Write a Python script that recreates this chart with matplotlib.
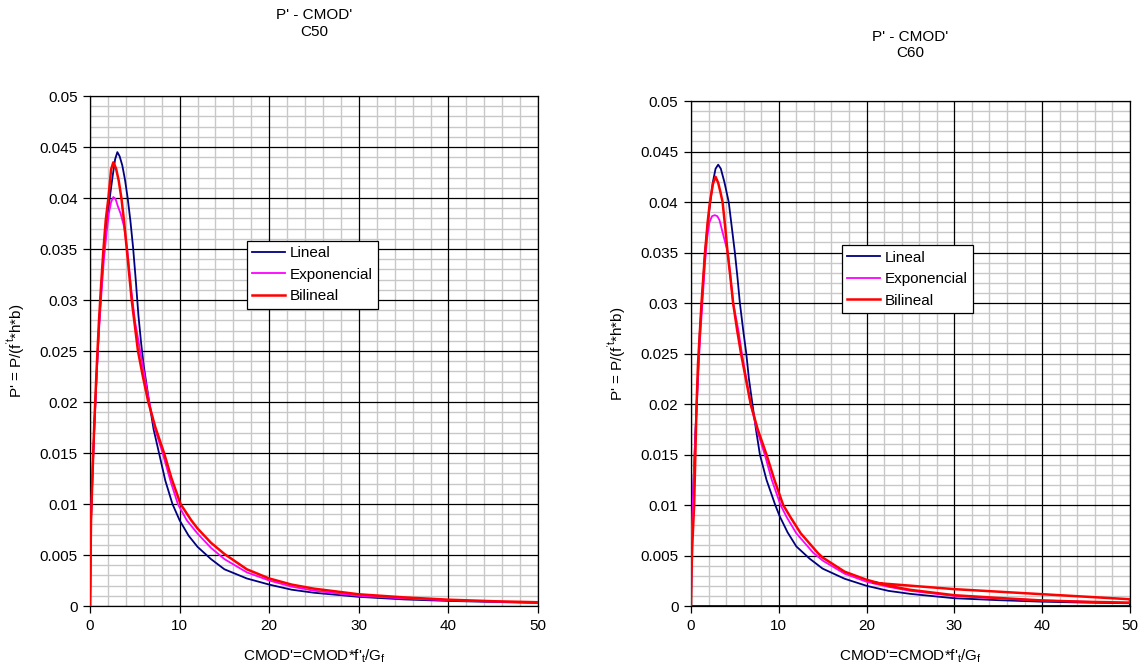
import numpy as np
import matplotlib.pyplot as plt
from matplotlib.ticker import MultipleLocator

plt.rcParams['font.family'] = ['Liberation Sans', 'DejaVu Sans']
plt.rcParams['font.size'] = 11
plt.rcParams['mathtext.fontset'] = 'custom'
plt.rcParams['mathtext.rm'] = 'Liberation Sans'

# ---- C50 ----
lin50_x = [0, 0.05, 0.1, 0.3, 0.5, 0.75, 1.0, 1.25, 1.5, 1.85, 2.2, 2.5, 2.8, 3.05, 3.3, 3.6, 3.9, 4.2, 4.5,
           4.8, 5.1, 5.4, 5.7, 6.0, 6.6, 7.1, 7.7, 8.4, 9.2, 10, 11, 12, 13.5, 15, 17.5, 20, 22.5, 25, 30,
           35, 40, 45, 50]
lin50_y = [0, 0.004, 0.008, 0.0135, 0.018, 0.023, 0.0275, 0.031, 0.0345, 0.0375, 0.040, 0.042, 0.0438, 0.0445,
           0.0441, 0.0432, 0.0418, 0.040, 0.0378, 0.0352, 0.032, 0.0285, 0.0258, 0.0235, 0.020, 0.0173, 0.015,
           0.0123, 0.010, 0.0084, 0.0069, 0.0058, 0.0046, 0.0036, 0.0027, 0.0021, 0.0016, 0.0013, 0.0009,
           0.00065, 0.0005, 0.0004, 0.0003]
exp50_x = [0, 0.05, 0.1, 0.3, 0.5, 0.75, 1.0, 1.3, 1.55, 1.85, 2.1, 2.35, 2.6, 2.85, 3.1, 3.4, 3.8, 4.15, 4.6,
           5.0, 5.5, 6.5, 7.2, 8.1, 9.0, 9.8, 10.8, 12, 13.5, 15, 17.5, 20, 22.5, 25, 30, 35, 40, 45, 50]
exp50_y = [0, 0.004, 0.0084, 0.0135, 0.018, 0.0228, 0.027, 0.031, 0.034, 0.0366, 0.0385, 0.0396, 0.0401,
           0.0399, 0.0392, 0.0385, 0.0372, 0.035, 0.031, 0.028, 0.0255, 0.0205, 0.0175, 0.015, 0.0122, 0.010,
           0.0084, 0.0071, 0.0057, 0.0046, 0.0033, 0.0025, 0.0019, 0.0015, 0.001, 0.00075, 0.00056, 0.00043,
           0.00033]
bil50_x = [0, 0.05, 0.11, 0.3, 0.48, 0.75, 1.0, 1.25, 1.5, 1.75, 2.05, 2.35, 2.6, 2.9, 3.2, 3.5, 3.8, 4.1, 4.65,
           5.35, 5.9, 6.5, 7.3, 8.26, 9.1, 10.1, 11.3, 12, 13.5, 15, 17.5, 20, 22.5, 25, 30, 35, 40, 45, 50]
bil50_y = [0, 0.004, 0.0084, 0.0135, 0.018, 0.0235, 0.028, 0.0317, 0.035, 0.0378, 0.040, 0.0428, 0.0435,
           0.0429, 0.0417, 0.040, 0.0377, 0.035, 0.030, 0.025, 0.0225, 0.020, 0.0175, 0.015, 0.0125, 0.010,
           0.0084, 0.0076, 0.0062, 0.0051, 0.0036, 0.0027, 0.0021, 0.0017, 0.00115, 0.00085, 0.00062,
           0.00047, 0.00037]

# ---- C60 ----
lin60_x = [0, 0.1, 0.3, 0.5, 0.75, 1.0, 1.3, 1.6, 1.9, 2.2, 2.5, 2.8, 3.1, 3.4, 3.8, 4.3, 4.65, 5.0, 5.3,
           5.57, 5.95, 6.3, 6.6, 7.0, 7.4, 7.85, 8.6, 9.6, 10.1, 11, 12, 13.5, 15, 17.5, 20, 22.5, 25, 30,
           35, 40, 45, 50, 50, 0]
lin60_y = [0, 0.0075, 0.0125, 0.017, 0.022, 0.027, 0.031, 0.035, 0.0378, 0.040, 0.042, 0.0433, 0.0437,
           0.0433, 0.042, 0.040, 0.0375, 0.035, 0.0325, 0.030, 0.0273, 0.025, 0.0225, 0.020, 0.0175, 0.015,
           0.0125, 0.010, 0.0089, 0.0073, 0.0059, 0.0047, 0.0037, 0.0027, 0.002, 0.0015, 0.0012, 0.00077,
           0.00058, 0.00043, 0.00034, 0.00027, 0, 0]
exp60_x = [0, 0.1, 0.3, 0.5, 0.75, 1.0, 1.3, 1.6, 1.85, 2.1, 2.4, 2.7, 3.0, 3.25, 3.6, 4.2, 4.8, 5.4, 5.8,
           6.3, 6.8, 7.5, 8.4, 9.2, 10.2, 10.9, 12, 13.9, 15, 17.5, 20, 22.5, 25, 30, 35, 40, 45, 50]
exp60_y = [0, 0.0075, 0.0125, 0.017, 0.0215, 0.026, 0.030, 0.034, 0.0365, 0.038, 0.0386, 0.0387, 0.0386,
           0.0382, 0.037, 0.035, 0.030, 0.0273, 0.025, 0.0225, 0.020, 0.0175, 0.015, 0.0125, 0.010, 0.0088,
           0.0072, 0.0053, 0.0045, 0.0032, 0.0024, 0.0019, 0.0015, 0.001, 0.00075, 0.00055, 0.00042, 0.00032]
bil60_x = [0, 0.05, 0.15, 0.28, 0.36, 0.5, 0.64, 0.8, 1.02, 1.2, 1.6, 1.9, 2.16, 2.5, 2.8, 3.1, 3.35, 3.6,
           3.9, 4.17, 4.5, 4.8, 5.26, 5.7, 6.25, 6.8, 7.6, 8.6, 9.5, 10.5, 11.4, 12.5, 14.5, 15, 17.5, 20,
           22.5, 25, 30, 35, 40, 45, 50, 50, 40, 30, 20.8]
bil60_y = [0, 0.003, 0.006, 0.0085, 0.010, 0.015, 0.020, 0.024, 0.0273, 0.030, 0.035, 0.038, 0.040, 0.0418,
           0.0425, 0.0419, 0.041, 0.040, 0.0375, 0.035, 0.0325, 0.030, 0.0273, 0.025, 0.0225, 0.020, 0.0175,
           0.015, 0.0125, 0.010, 0.0087, 0.0072, 0.0052, 0.0048, 0.0034, 0.0026, 0.002, 0.0016, 0.00107,
           0.0008, 0.00055, 0.00042, 0.00033, 0.00067, 0.00117, 0.00167, 0.0023]

c_lin = '#000080'
c_exp = '#ff00ff'
c_bil = '#ff0000'
ytick_labels = ['0', '0.005', '0.01', '0.015', '0.02', '0.025', '0.03', '0.035', '0.04', '0.045', '0.05']

fig = plt.figure(figsize=(11.44, 6.7), dpi=100)
ax1 = fig.add_axes([0.0787, 0.0955, 0.3916, 0.7612])
ax2 = fig.add_axes([0.604, 0.0955, 0.3837, 0.7537])

panels = [
    (ax1, 'C50', lin50_x, lin50_y, exp50_x, exp50_y, bil50_x, bil50_y, (0.216, 0.641), 1 - 23.5 / 670),
    (ax2, 'C60', lin60_x, lin60_y, exp60_x, exp60_y, bil60_x, bil60_y, (0.736, 0.634), 1 - 45 / 670),
]

for ax, name, lx, ly, ex, ey, bx, by, legpos, title_y in panels:
    ax.plot(lx, ly, color=c_lin, lw=1.3, label='Lineal', zorder=3)
    ax.plot(ex, ey, color=c_exp, lw=1.3, label='Exponencial', zorder=4)
    ax.plot(bx, by, color=c_bil, lw=1.8, label='Bilineal', zorder=5)

    ax.set_xlim(0, 50)
    ax.set_ylim(0, 0.05)
    ax.xaxis.set_major_locator(MultipleLocator(10))
    ax.xaxis.set_minor_locator(MultipleLocator(2))
    ax.yaxis.set_minor_locator(MultipleLocator(0.001))
    ax.set_yticks(np.arange(0, 0.0501, 0.005))
    ax.set_yticklabels(ytick_labels)
    ax.grid(which='minor', color='#c8c8c8', lw=1.0)
    # major grid on top of the minor one
    for xv in ax.get_xticks():
        ax.axvline(xv, color='#000000', lw=0.9, zorder=1)
    for yv in ax.get_yticks():
        ax.axhline(yv, color='#000000', lw=0.9, zorder=1)
    ax.set_axisbelow(True)
    ax.tick_params(which='major', direction='out', length=5, width=0.9, pad=4)
    ax.tick_params(which='minor', length=0)
    for s in ax.spines.values():
        s.set_color('#000000')
        s.set_linewidth(0.9)

    pos = ax.get_position()
    fig.text((pos.x0 + pos.x1) / 2, title_y, "P' - CMOD'\n" + name, ha='center', va='center',
             linespacing=1.25)
    ax.set_xlabel(r"CMOD'=CMOD*f'$_{\mathregular{t}}$/G$_{\mathregular{f}}$", labelpad=11)
    ax.set_ylabel(r"P' = P/(f$^{\mathregular{'t}}$*h*b)", labelpad=9)

    leg = ax.legend(loc='upper left', bbox_to_anchor=legpos, bbox_transform=fig.transFigure,
                    frameon=True, fancybox=False, shadow=False, framealpha=1,
                    edgecolor='#000000', handlelength=2.15, handletextpad=0.3,
                    labelspacing=0.5, borderpad=0.35, borderaxespad=0)
    leg.get_frame().set_linewidth(0.9)
    leg.set_zorder(10)

fig.savefig('out.png', dpi=100)
